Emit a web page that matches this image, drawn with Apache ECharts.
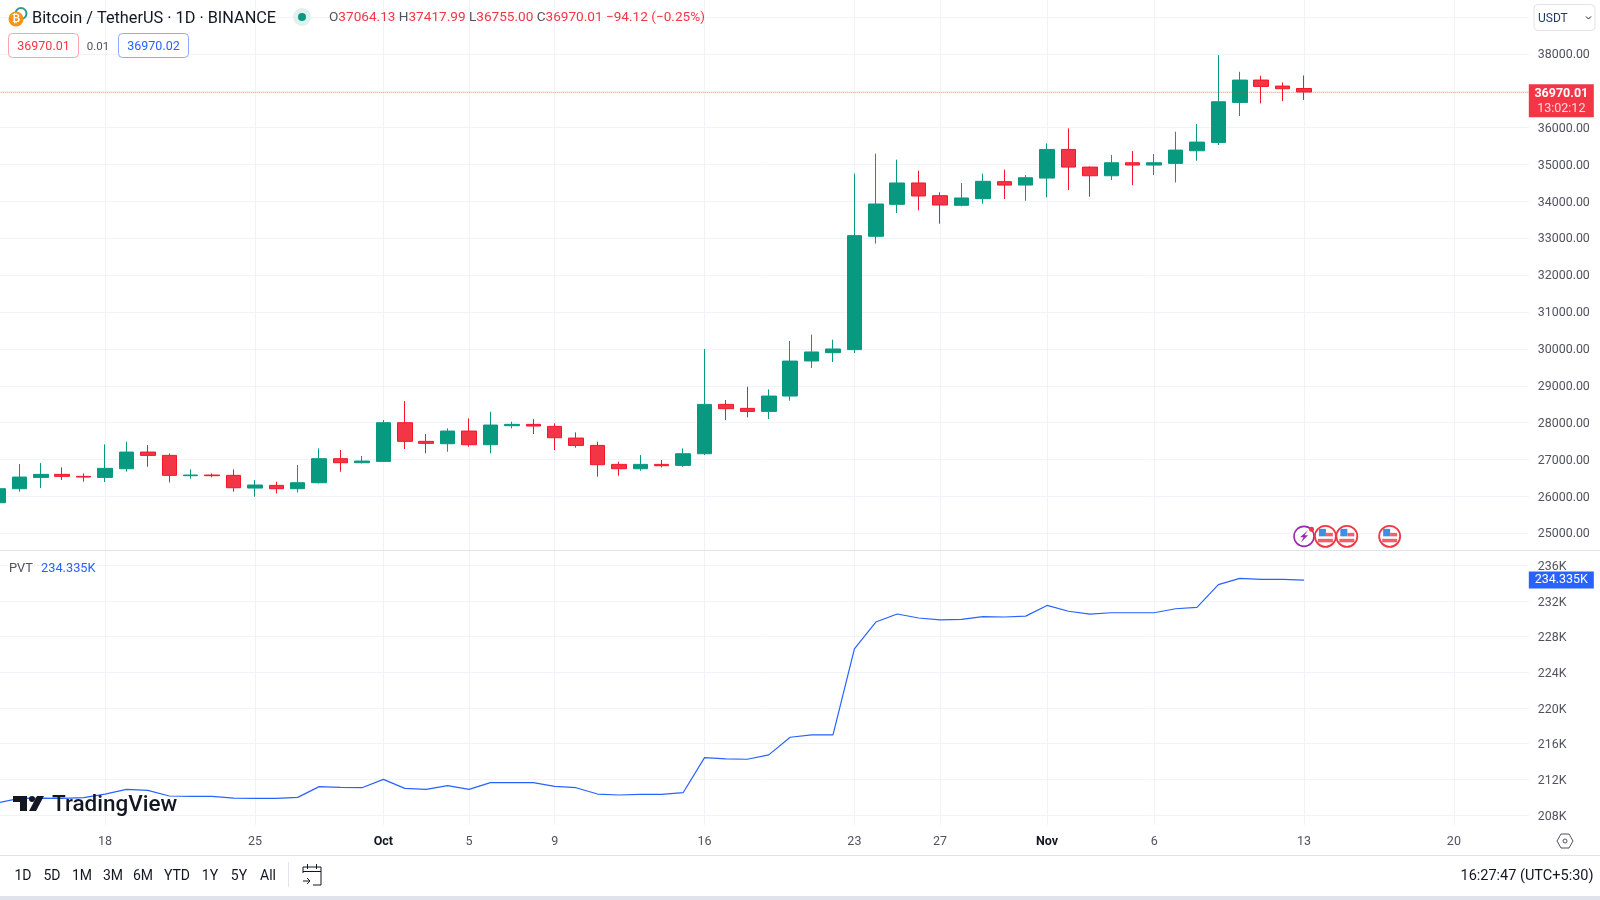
<!DOCTYPE html>
<html><head><meta charset="utf-8"><title>Bitcoin / TetherUS</title>
<style>html,body{margin:0;padding:0;background:#fff}#c{width:1600px;height:900px}</style>
<script src="https://cdn.jsdelivr.net/npm/echarts@6/dist/echarts.min.js"></script></head>
<body><div id="c"></div><script>
const dates=['Sep 13','Sep 14','Sep 15','Sep 16','Sep 17','Sep 18','Sep 19','Sep 20','Sep 21','Sep 22','Sep 23','Sep 24','Sep 25','Sep 26','Sep 27','Sep 28','Sep 29','Sep 30',
'Oct 1','Oct 2','Oct 3','Oct 4','Oct 5','Oct 6','Oct 7','Oct 8','Oct 9','Oct 10','Oct 11','Oct 12','Oct 13','Oct 14','Oct 15','Oct 16','Oct 17','Oct 18','Oct 19','Oct 20','Oct 21','Oct 22','Oct 23','Oct 24','Oct 25','Oct 26','Oct 27','Oct 28','Oct 29','Oct 30','Oct 31',
'Nov 1','Nov 2','Nov 3','Nov 4','Nov 5','Nov 6','Nov 7','Nov 8','Nov 9','Nov 10','Nov 11','Nov 12','Nov 13','Nov 14','Nov 15','Nov 16','Nov 17','Nov 18','Nov 19','Nov 20','Nov 21','Nov 22','Nov 23'];
const open=[25830,26210,26517,26599,26545,26517,26752,27204,27114,26563,26581,26572,26228,26300,26210,26373,27024,26915,26951,28000,27494,27430,27774,27403,27919,27955,27900,27584,27385,26870,26752,26870,26843,27159,28497,28389,28307,28723,29675,29900,29982,33056,33923,34502,34158,33896,34077,34538,34445,34635,35412,34933,34698,35051,34988,35033,35376,35602,36687,37293,37130,37064.13];
const close=[26210,26526,26599,26545,26526,26762,27204,27114,26572,26581,26563,26237,26310,26210,26373,27024,26915,26960,28000,27494,27440,27774,27403,27937,27955,27910,27593,27385,26861,26752,26870,26834,27159,28497,28380,28307,28723,29672,29919,30000,33074,33932,34502,34149,33905,34095,34547,34445,34644,35412,34933,34698,35051,34988,35051,35394,35611,36705,37293,37121,37058,36970.01];
const low=[25700,26129,26228,26445,26400,26391,26671,26807,26382,26481,26517,26129,25993,26084,26110,26355,26671,26897,26933,27286,27168,27214,27349,27168,27846,27693,27259,27322,26536,26563,26698,26789,26807,27123,28072,28145,28099,28597,29485,29647,29892,32857,33688,33761,33399,33869,33941,34065,34020,34111,34310,34129,34581,34445,34716,34517,35105,35530,36316,36660,36723,36755];
const high=[26250,26879,26906,26789,26626,27412,27485,27394,27168,26734,26626,26734,26445,26400,26852,27304,27259,27096,28072,28588,27693,27846,28118,28298,28027,28099,27982,27738,27485,26942,27123,26987,27304,29998,28615,28976,28904,30215,30389,30253,34755,35297,35135,34836,34249,34502,34755,34864,34716,35575,35982,34950,35259,35367,35286,35892,36099,37971,37519,37410,37229,37417.99];
const pvt=[209.38,209.87,209.90,209.87,209.94,210.35,210.88,210.76,210.13,210.09,210.09,209.90,209.87,209.87,209.98,211.18,211.10,211.06,212.00,210.99,210.88,211.29,210.88,211.63,211.63,211.63,211.21,211.06,210.35,210.24,210.31,210.31,210.50,214.43,214.30,214.25,214.74,216.72,216.98,216.98,226.64,229.64,230.54,230.09,229.87,229.94,230.24,230.20,230.30,231.50,230.85,230.53,230.68,230.68,230.68,231.13,231.28,233.83,234.54,234.43,234.43,234.335];
const tickDates=['Sep 18','Sep 25','Oct 1','Oct 5','Oct 9','Oct 16','Oct 23','Oct 27','Nov 1','Nov 6','Nov 13','Nov 20'];
const tickLabels=['18','25','Oct','5','9','16','23','27','Nov','6','13','20'];
const rangeButtons=['1D','5D','1M','3M','6M','YTD','1Y','5Y','All'];
const rangeButtonX=[23,52,82,113,143,177,210,239,268];
const eventDates=['Nov 13','Nov 14','Nov 15','Nov 17'];
const lastPrice=36970.01, countdown='13:02:12', lastPvt=234.335;
const GREEN='#089981',RED='#f23645',BLUE='#2962ff',GRID='#f0f3fa',AXIS='#50535e',INK='#131722',LINE='#e0e3eb';
const FONT='Roboto, sans-serif';
const BAND=21.41;
const chart=echarts.init(document.getElementById('c'),null,{renderer:'canvas'});
const hiddenX=i=>({type:'category',gridIndex:i,data:dates,boundaryGap:true,show:false});
const yLabel=(f,pad)=>({margin:9,formatter:v=>{const s=f(v);return s?`{a|${s}}`:'';},
  rich:{a:{color:AXIS,fontSize:12.4,fontFamily:FONT,padding:[pad,0,0,0]}}});
chart.setOption({
 animation:false,backgroundColor:'#fff',
 grid:[
  {outerBoundsMode:'none',left:-2-BAND/2,width:BAND*72,top:17.13,height:516.2},
  {outerBoundsMode:'none',left:-2-BAND/2,width:BAND*72,top:565.3,height:249.7},
  {outerBoundsMode:'none',left:-2,width:BAND*71,top:0,height:825}
 ],
 xAxis:[hiddenX(0),hiddenX(1),{type:'category',gridIndex:2,data:dates,boundaryGap:false,
   axisLine:{show:false},axisTick:{show:false},
   splitLine:{show:true,lineStyle:{color:GRID,width:1},interval:(i,v)=>tickDates.includes(v)},
   axisLabel:{interval:(i,v)=>tickDates.includes(v),margin:9,hideOverlap:false,padding:[1,0,0,0],
     formatter:v=>{const t=tickLabels[tickDates.indexOf(v)];return isNaN(+t)?`{b|${t}}`:`{n|${t}}`;},
     rich:{n:{color:AXIS,fontSize:12.5,fontFamily:FONT},b:{color:INK,fontSize:12.5,fontFamily:FONT,fontWeight:'bold'}}}}],
 yAxis:[
  {type:'value',gridIndex:0,position:'right',min:25000,max:39000,interval:1000,axisLine:{show:false},axisTick:{show:false},
   splitLine:{lineStyle:{color:GRID}},axisLabel:yLabel(v=>v>=39000?'':v.toFixed(2),2)},
  {type:'value',gridIndex:1,position:'right',min:208,max:236,interval:4,axisLine:{show:false},axisTick:{show:false},
   splitLine:{lineStyle:{color:GRID}},axisLabel:yLabel(v=>v+'K',3)},
  {type:'value',gridIndex:2,show:false}
 ],
 series:[
  {type:'candlestick',xAxisIndex:0,yAxisIndex:0,barWidth:15,clip:false,
   data:open.map((o,i)=>[o,close[i],low[i],high[i]]),
   itemStyle:{color:GREEN,color0:RED,borderColor:GREEN,borderColor0:'#f5162b',borderWidth:1},
   markLine:{symbol:'none',silent:true,animation:false,
    lineStyle:{color:'rgba(242,54,69,0.55)',type:'dotted',width:1},
    data:[{yAxis:lastPrice,label:{show:true,position:'end',distance:0,offset:[0,8.8],
      backgroundColor:RED,width:57,padding:[2,4,1,4],align:'left',
      formatter:()=>`{a|${lastPrice.toFixed(2)}}\n{b|${countdown}}`,
      rich:{a:{color:'#fff',fontSize:12.5,fontWeight:'bold',fontFamily:FONT,lineHeight:15,width:57,align:'center'},
            b:{color:'#ffd9dc',fontSize:12.5,fontFamily:FONT,lineHeight:15,width:57,align:'center'}}}}]}},
  {type:'line',xAxisIndex:1,yAxisIndex:1,data:pvt,showSymbol:false,symbol:'none',lineStyle:{color:BLUE,width:1.2},itemStyle:{color:BLUE},clip:false,
   markLine:{symbol:'none',silent:true,animation:false,lineStyle:{color:'rgba(0,0,0,0)',width:0},
    data:[{yAxis:lastPvt,label:{show:true,position:'end',distance:0,backgroundColor:BLUE,
      width:57,align:'left',padding:[2,4,2,4],formatter:()=>`{a|${lastPvt.toFixed(3)}K}`,
      rich:{a:{color:'#fff',fontSize:12.5,fontFamily:FONT,width:57,align:'center'}}}}]}}
 ]
});
const t=(text,x,y,o={})=>({type:'text',z:o.z||50,style:Object.assign({text,x,y,fill:o.fill||INK,font:`${o.weight||'normal'} ${o.size||12.5}px ${FONT}`,textAlign:o.align||'left',textVerticalAlign:'middle'},o.style||{})});
const rect=(x,y,w,h,st,r)=>({type:'rect',z:50,shape:{x,y,width:w,height:h,r:r||0},style:st});
const circ=(cx,cy,r,st)=>({type:'circle',z:50,shape:{cx,cy,r},style:st});
const poly=(points,st)=>({type:'polygon',z:50,shape:{points},style:st});
const pline=(points,st)=>({type:'polyline',z:50,shape:{points},style:Object.assign({fill:'none'},st)});
const ohlc=[['O','37064.13'],['H','37417.99'],['L','36755.00'],['C','36970.01']];
const g=[
 // top legend
 circ(21,13.5,5.5,{fill:'#fff',stroke:'#2a9d8f',lineWidth:2}),
 circ(16,19,7.5,{fill:'#f7931a'}),
 t('₿',16,19,{size:10,fill:'#fff',align:'center',weight:'bold'}),
 t('Bitcoin / TetherUS · 1D · BINANCE',32,19,{size:16.3}),
 circ(302,17,9,{fill:'#dff1ee'}),circ(302,17,4,{fill:GREEN}),
 {type:'text',z:50,style:{x:329,y:17.5,textVerticalAlign:'middle',font:`13.6px ${FONT}`,
  text:ohlc.map(([k,v])=>`{k|${k}}{v|${v}}`).join('{s| }')+'{s| }{v|−94.12 (−0.25%)}',
  rich:{k:{fill:AXIS,fontSize:13.6,fontFamily:FONT},v:{fill:RED,fontSize:13.6,fontFamily:FONT},s:{fontSize:13.6,fontFamily:FONT}}}},
 rect(8.5,33.5,70,24,{fill:'#fff',stroke:'#f7a5ac',lineWidth:1},4),
 t('36970.01',43.5,47,{fill:RED,size:12.5,align:'center'}),
 t('0.01',98,47,{fill:AXIS,size:11.5,align:'center'}),
 rect(118.5,33.5,70,24,{fill:'#fff',stroke:'#8ea9ff',lineWidth:1},4),
 t('36970.02',153.5,47,{fill:BLUE,size:12.5,align:'center'}),
 // currency box
 rect(1534,4.5,61,26,{fill:'#fff',stroke:LINE,lineWidth:1},4),
 t('USDT',1538,19,{fill:'#1f3a5f',size:12}),
 pline([[1586,16.5],[1588.5,19],[1591,16.5]],{stroke:INK,lineWidth:1}),
 // pane separators
 {type:'line',z:40,shape:{x1:0,y1:550.5,x2:1600,y2:550.5},style:{stroke:LINE,lineWidth:1}},
 t('PVT',9,568.5,{fill:AXIS,size:12.8}),
 t(lastPvt.toFixed(3)+'K',41,568.5,{fill:BLUE,size:12.8}),
 // watermark
 poly([[13,796],[27,796],[27,811],[20,811],[20,802],[13,802]],{fill:INK}),
 circ(32,799,3,{fill:INK}),
 poly([[37,796],[44,796],[36,811],[29,811]],{fill:INK}),
 t('TradingView',52,805,{size:22.5,fill:INK,weight:500}),
 // settings
 poly([[1557,841],[1561,834],[1569,834],[1573,841],[1569,848],[1561,848]],{fill:'#fff',stroke:AXIS,lineWidth:1}),
 circ(1565,841,2,{fill:'#fff',stroke:AXIS,lineWidth:1}),
 // bottom bar
 {type:'line',z:40,shape:{x1:0,y1:855.5,x2:1600,y2:855.5},style:{stroke:LINE,lineWidth:1}},
 rect(0,896,1600,4,{fill:LINE}),
 ...rangeButtons.map((b,i)=>t(b,rangeButtonX[i],876.5,{size:14,align:'center'})),
 {type:'line',z:40,shape:{x1:288.5,y1:862,x2:288.5,y2:887},style:{stroke:LINE,lineWidth:1}},
 pline([[303,873],[303,867],[321,867],[321,885],[313,885]],{stroke:INK,lineWidth:1}),
 pline([[303,871.5],[321,871.5]],{stroke:INK,lineWidth:1}),
 pline([[307.5,864],[307.5,869]],{stroke:INK,lineWidth:1}),pline([[316.5,864],[316.5,869]],{stroke:INK,lineWidth:1}),
 pline([[303,881],[310,881]],{stroke:INK,lineWidth:1}),pline([[307,878],[310,881],[307,884]],{stroke:INK,lineWidth:1}),
 t('16:27:47 (UTC+5:30)',1593.5,876.5,{size:14.5,align:'right'})
];
// event badges located from the date axis
eventDates.forEach((d,i)=>{
 const x=chart.convertToPixel({xAxisIndex:0},d),y=chart.convertToPixel({yAxisIndex:0},25000)+3;
 if(i===0){
  g.push(circ(x,y,10,{fill:'#fff',stroke:'#9c27b0',lineWidth:1.6}));
  g.push(poly([[x+4,y-6],[x-4,y+1],[x-.5,y+1],[x-3,y+6],[x+4,y-1],[x+.5,y-1]],{fill:'#9c27b0'}));
  g.push(circ(x+7.5,y-7,2.5,{fill:RED}));
 }else{
  g.push(circ(x,y,10.5,{fill:'#fff',stroke:RED,lineWidth:1.8}));
  g.push(rect(x-6.5,y-7.5,7,7.5,{fill:'#3f8fe0'}));
  g.push(rect(x+.5,y-3.5,7,3.5,{fill:'#f2606b'}));
  g.push(rect(x-7.5,y+2.5,15,3.5,{fill:'#f2606b'}));
 }
});
chart.setOption({graphic:{elements:g}});
</script></body></html>
